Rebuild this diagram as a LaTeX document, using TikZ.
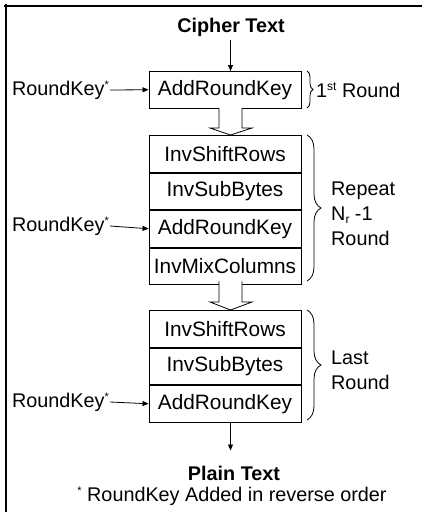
\documentclass[tikz,border=0pt]{standalone}
\usepackage{fontspec}
\setmainfont{Liberation Sans}
\usetikzlibrary{arrows.meta,decorations.pathreplacing}
\newcommand{\supstar}{\raisebox{6.5pt}{\fontsize{11}{11}\selectfont *}}
\newcommand{\supsmall}[1]{\raisebox{6.5pt}{\fontsize{12}{12}\selectfont #1}}
\newcommand{\subsmall}[1]{\raisebox{-3pt}{\fontsize{12}{12}\selectfont #1}}
\begin{document}
\begin{tikzpicture}[x=1pt,y=-1pt,
  every node/.style={font=\fontsize{19.8}{25}\selectfont, inner sep=0pt},
  opbox/.style={draw, line width=0.9pt, minimum width=152pt, minimum height=36.6pt, anchor=north, font=\fontsize{20.8}{25}\selectfont},
  arr/.style={line width=0.8pt, -{Triangle[length=6pt,width=5pt]}},
  hollow/.style={draw, line width=0.8pt, fill=white},
  brc/.style={line width=0.8pt, decorate, decoration={brace, amplitude=#1}},
  side/.style={anchor=west, align=left}]
\useasboundingbox (0,0) rectangle (431,512);
% frame
\draw[line width=2.5pt] (4,6) -- (422,6);
\draw[line width=2.5pt] (6,4) -- (6,512);
\coordinate (ax) at (230.5,0);
% texts
\node[font=\fontsize{19.8}{25}\selectfont\bfseries] (cipher) at (231,27) {Cipher Text};
\node[font=\fontsize{19.8}{25}\selectfont\bfseries] (plain) at (234,473) {Plain Text};
\node (note) at (232,496) {\supstar\ RoundKey Added in reverse order};
% first round
\node[opbox] (b1) at (225,71) {AddRoundKey};
% repeat rounds
\node[opbox] (r1) at (225,135) {InvShiftRows};
\node[opbox] (r2) at (r1.south) {InvSubBytes};
\node[opbox] (r3) at (r2.south) {AddRoundKey};
\node[opbox] (r4) at (r3.south) {InvMixColumns};
% last round
\node[opbox] (l1) at (225,310) {InvShiftRows};
\node[opbox] (l2) at (l1.south) {InvSubBytes};
\node[opbox] (l3) at (l2.south) {AddRoundKey};
% round keys
\node[anchor=east] (k1) at (109,90) {RoundKey\supstar};
\node[anchor=east] (k2) at (109,226) {RoundKey\supstar};
\node[anchor=east] (k3) at (109,402) {RoundKey\supstar};
\draw[arr] (k1.east) ++(1,0) -- (b1.west);
\draw[arr] (k2.east) ++(1,0) -- (r3.west);
\draw[arr] (k3.east) ++(1,0) -- (l3.west);
% vertical arrows
\draw[arr] (cipher.south -| ax) ++(0,4) -- (b1.north -| ax);
\draw[arr] (l3.south -| ax) -- ++(0,28) coordinate (pend);
% hollow arrows
\draw[hollow] (219,108) -- (219,128) -- (210,128) -- (230.5,135) -- (252,128) -- (242,128) -- (242,108);
\draw[hollow] (219,281.3) -- (219,302) -- (210,302) -- (230.5,310) -- (252,302) -- (242,302) -- (242,281.3);
% braces
\draw[brc=6pt] (307,71) -- (307,108);
\draw[brc=14pt] (307,135) -- (307,281);
\draw[brc=14pt] (307,310) -- (307,420);
\node[side] (t1) at (316,90) {1\supsmall{st} Round};
\node[side] (t2) at (331,214) {Repeat\\N\subsmall{r} -1\\Round};
\node[side] (t3) at (331,370) {Last\\Round};
\end{tikzpicture}
\end{document}
